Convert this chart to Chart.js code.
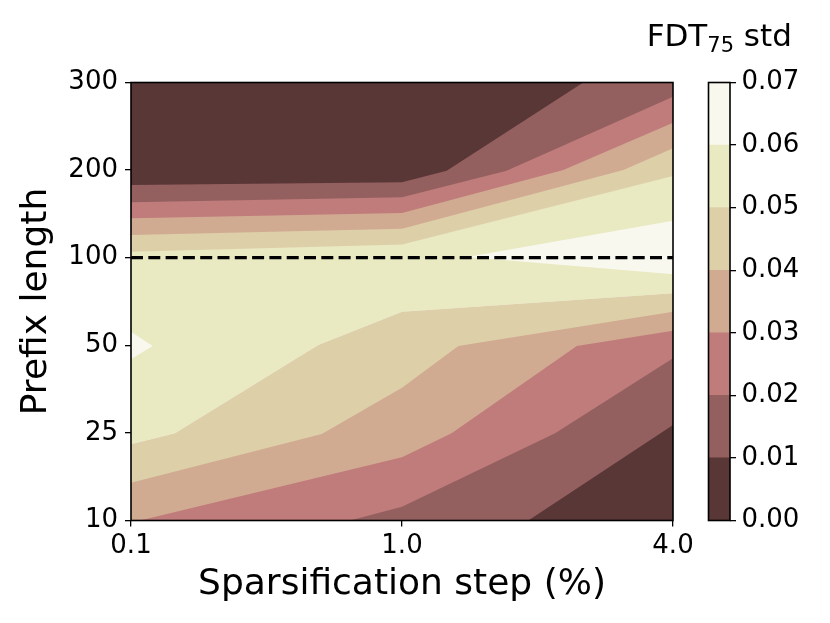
<!DOCTYPE html>
<html>
<head>
<meta charset="utf-8">
<script src="https://cdn.jsdelivr.net/npm/chart.js@4.4.1/dist/chart.umd.min.js"></script>
<style>
  body { margin: 0; background: #fff; }
  #wrap { position: relative; width: 830px; height: 623px; }
  canvas { position: absolute; left: 0; top: 0; }
</style>
</head>
<body>
<div id="wrap">
  <canvas id="contour" width="830" height="623"></canvas>
  <canvas id="colorbar" width="830" height="623"></canvas>
</div>
<script>
// axes: x and y are grid indices, labelled with the real values
const xTickLabels = ['0.1', '1.0', '4.0'];
const yTickLabels = ['10', '25', '50', '100', '200', '300'];
const levels = [0, 0.01, 0.02, 0.03, 0.04, 0.05, 0.06, 0.07];
const bandColors = ['#5a3737', '#93605f', '#c07b7b', '#d1aa92', '#ddcfa8', '#e9e9c2', '#f8f8ee'];
const cbLabel = ['FDT', '75', ' std'];

// contour lines, [x index, y index]
// upper half (above prefix 100), values fall going up
const upper01 = [[0, 3.83], [1, 3.86], [1.165, 3.993], [1.669, 5], [2, 5]];
const upper02 = [[0, 3.632], [1, 3.69], [1.386, 3.993], [2, 4.838]];
const upper03 = [[0, 3.45], [1, 3.51], [1.595, 4.0], [2, 4.541]];
const upper04 = [[0, 3.259], [1, 3.33], [1.817, 4.0], [2, 4.249]];
const upper05 = [[0, 3.068], [1, 3.15], [2, 3.933]];
// lower half, values fall going down
const lower05 = [[0, 0.87], [0.162, 0.995], [0.691, 2.003], [1, 2.384], [2, 2.594]];
const lower04 = [[0, 0.432], [0.704, 0.987], [1, 1.516], [1.208, 1.992], [2, 2.384]];
const lower03 = [[0, 0], [0.033, 0], [1, 0.721], [1.183, 0.995], [1.645, 1.992], [2, 2.167]];
const lower02 = [[0, 0], [0.808, 0], [1, 0.158], [1.565, 0.995], [2, 1.852]];
const lower01 = [[0, 0], [1.466, 0], [2, 1.09]];
// 0.06 islands
const peakRightTop = [[1.24, 3.008], [2, 3.422]];
const peakRightBot = [[1.24, 3.008], [2, 2.811]];
const peakLeftTop = [[0, 2.155], [0.08, 1.992]];
const peakLeftBot = [[0, 1.84], [0.08, 1.992]];
const refLine = [[0, 3], [2, 3]];

const FONT = 'DejaVu Sans';
const pts = (arr) => arr.map(([x, y]) => ({ x, y }));

let drawOrder = 100;
const area = (line, fill, color) => ({
  data: pts(line),
  fill: fill,
  backgroundColor: color,
  borderWidth: 0,
  pointRadius: 0,
  order: drawOrder--
});

const datasets = [
  area(lower05, 'end', bandColors[5]),
  area(lower05, 'start', bandColors[4]),
  area(lower04, 'start', bandColors[3]),
  area(lower03, 'start', bandColors[2]),
  area(lower02, 'start', bandColors[1]),
  area(lower01, 'start', bandColors[0]),
  area(upper05, 'end', bandColors[4]),
  area(upper04, 'end', bandColors[3]),
  area(upper03, 'end', bandColors[2]),
  area(upper02, 'end', bandColors[1]),
  area(upper01, 'end', bandColors[0])
];
datasets.push(area(peakRightBot, false, bandColors[6]));
datasets.push(area(peakRightTop, { target: datasets.length - 1 }, bandColors[6]));
datasets.push(area(peakLeftBot, false, bandColors[6]));
datasets.push(area(peakLeftTop, { target: datasets.length - 1 }, bandColors[6]));
datasets.push({
  data: pts(refLine),
  fill: false,
  borderColor: '#000',
  borderWidth: 3.3,
  borderDash: [12, 5.3],
  pointRadius: 0,
  order: 0
});

const frame = {
  id: 'frame',
  afterDatasetsDraw(chart) {
    const { ctx, chartArea: a } = chart;
    ctx.save();
    ctx.strokeStyle = '#000';
    ctx.lineWidth = 1.6;
    ctx.strokeRect(a.left, a.top, a.right - a.left, a.bottom - a.top);
    ctx.restore();
  }
};

const tickGrid = { drawOnChartArea: false, drawTicks: true, tickLength: 6, color: '#000', lineWidth: 1.3 };
const tickFont = { family: FONT, size: 26 };

new Chart(document.getElementById('contour'), {
  type: 'line',
  data: { datasets },
  options: {
    responsive: false,
    animation: false,
    layout: { padding: { left: 0, top: 82.5, right: 157, bottom: 0 } },
    plugins: { legend: { display: false }, tooltip: { enabled: false } },
    elements: { line: { tension: 0 } },
    scales: {
      x: {
        type: 'linear', min: 0, max: 2,
        afterFit: (s) => { s.height = 102.5; },
        afterBuildTicks: (s) => { s.ticks = xTickLabels.map((_, i) => ({ value: i })); },
        ticks: { callback: (v) => xTickLabels[v], font: tickFont, color: '#000', padding: 4.5, maxRotation: 0 },
        grid: tickGrid,
        border: { display: false },
        title: { display: true, text: 'Sparsification step (%)', color: '#000',
                 font: { family: FONT, size: 36 }, padding: { top: 0, bottom: 17 } }
      },
      y: {
        type: 'linear', min: 0, max: 5,
        afterFit: (s) => { s.width = 131; },
        afterBuildTicks: (s) => { s.ticks = yTickLabels.map((_, i) => ({ value: i })); },
        ticks: { callback: (v) => yTickLabels[v], font: tickFont, color: '#000', padding: 7 },
        grid: tickGrid,
        border: { display: false },
        title: { display: true, text: 'Prefix length', color: '#000',
                 font: { family: FONT, size: 36 }, padding: { top: 15, bottom: 0 } }
      }
    }
  },
  plugins: [frame]
});

const cbTitle = {
  id: 'cbTitle',
  afterDraw(chart) {
    const { ctx, chartArea: a } = chart;
    const big = `31px '${FONT}'`, small = `21px '${FONT}'`;
    ctx.save();
    ctx.font = big;
    const w1 = ctx.measureText(cbLabel[0]).width;
    const w3 = ctx.measureText(cbLabel[2]).width;
    ctx.font = small;
    const w2 = ctx.measureText(cbLabel[1]).width;
    let x = (a.left + a.right) / 2 - (w1 + w2 + w3) / 2;
    const y = a.top - 37;
    ctx.fillStyle = '#000';
    ctx.textBaseline = 'alphabetic';
    ctx.font = big; ctx.fillText(cbLabel[0], x, y); x += w1;
    ctx.font = small; ctx.fillText(cbLabel[1], x, y + 6); x += w2;
    ctx.font = big; ctx.fillText(cbLabel[2], x, y);
    ctx.restore();
  }
};

new Chart(document.getElementById('colorbar'), {
  type: 'bar',
  data: {
    labels: ['std'],
    datasets: bandColors.map((c, i) => ({
      data: [levels[i + 1] - levels[i]],
      backgroundColor: c,
      borderWidth: 0,
      barPercentage: 1,
      categoryPercentage: 1
    }))
  },
  options: {
    responsive: false,
    animation: false,
    layout: { padding: { left: 708.5, top: 82.5, right: 0, bottom: 102.5 } },
    plugins: { legend: { display: false }, tooltip: { enabled: false } },
    scales: {
      x: { display: false, stacked: true },
      y: {
        stacked: true, position: 'right', min: 0, max: 0.07,
        afterFit: (s) => { s.width = 100; },
        afterBuildTicks: (s) => { s.ticks = levels.map((v) => ({ value: v })); },
        ticks: { callback: (v) => v.toFixed(2), font: tickFont, color: '#000', padding: 5.5 },
        grid: tickGrid,
        border: { display: false }
      }
    }
  },
  plugins: [frame, cbTitle]
});
</script>
</body>
</html>
